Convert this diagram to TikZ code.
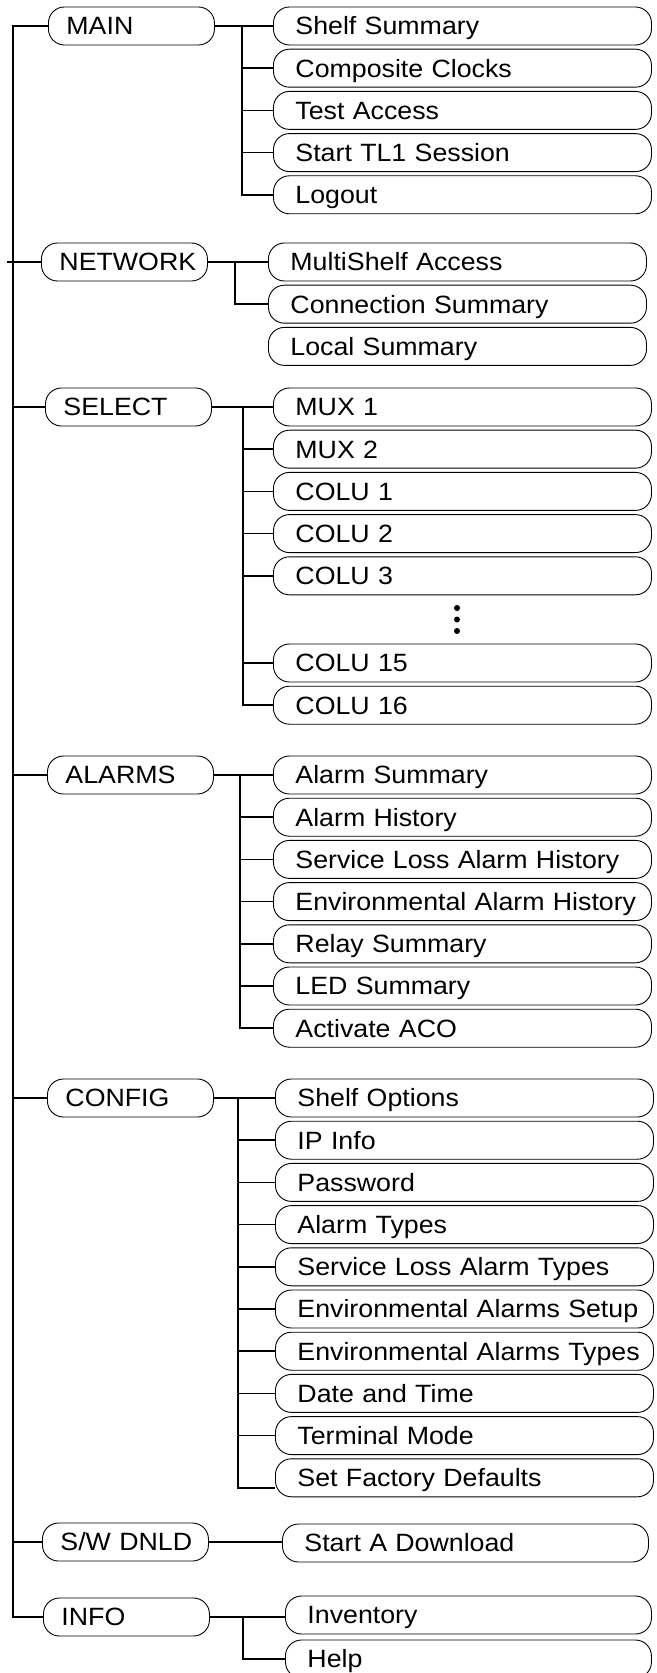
\documentclass[tikz,border=0pt]{standalone}
\usepackage{fontspec}
\setmainfont{Liberation Sans}[FakeStretch=1.07]
\usetikzlibrary{positioning}

\begin{document}
\begin{tikzpicture}[
  x=0.5pt, y=-0.5pt,
  node distance=1.65pt,
  box/.style={draw, line width=0.45pt, rounded corners=8pt, minimum height=19pt, inner ysep=0pt,
    align=left, font=\fontsize{12.5}{14}\selectfont, text height=9.3pt, text depth=0.35pt,
    execute at begin node={\hbox\bgroup}, execute at end node={\egroup}},
  menu/.style={box, anchor=west, inner xsep=9pt, text width=65pt},
  item/.style={box, inner xsep=11pt, text width=167pt},
  short/.style={item, text width=161pt},
  ln/.style={line width=0.85pt}
]
\useasboundingbox (0,0) rectangle (657,1673);

% top level menus
\node[menu] (main) at (48,26) {MAIN};
\node[menu] (net) at (41,262) {NETWORK};
\node[menu] (sel) at (45,407) {SELECT};
\node[menu] (alm) at (47,775) {ALARMS};
\node[menu] (cfg) at (47,1098) {CONFIG};
\node[menu] (sw) at (42,1542) {S/W DNLD};
\node[menu] (info) at (43,1617) {INFO};

% MAIN
\node[item, anchor=west] (ss) at (273,26) {Shelf Summary};
\node[item, below=of ss] (cc) {Composite Clocks};
\node[item, below=of cc] (ta) {Test Access};
\node[item, below=of ta] (tl) {Start TL1 Session};
\node[item, below=of tl] (lo) {Logout};

% NETWORK
\node[item, anchor=west] (ms) at (268,262) {MultiShelf Access};
\node[item, below=of ms] (cs) {Connection Summary};
\node[item, below=of cs] (ls) {Local Summary};

% SELECT
\node[item, anchor=west] (m1) at (273,407) {MUX 1};
\node[item, below=of m1] (m2) {MUX 2};
\node[item, below=of m2] (c1) {COLU 1};
\node[item, below=of c1] (c2) {COLU 2};
\node[item, below=of c2] (c3) {COLU 3};
\node[item, anchor=west] (c15) at (273,663) {COLU 15};
\node[item, below=of c15] (c16) {COLU 16};
\fill (457,608) circle (1.5pt) (457,619.5) circle (1.5pt) (457,631) circle (1.5pt);

% ALARMS
\node[item, anchor=west] (as) at (273,775) {Alarm Summary};
\node[item, below=of as] (ah) {Alarm History};
\node[item, below=of ah] (sl) {Service Loss Alarm History};
\node[item, below=of sl] (eh) {Environmental Alarm History};
\node[item, below=of eh] (rs) {Relay Summary};
\node[item, below=of rs] (led) {LED Summary};
\node[item, below=of led] (aco) {Activate ACO};

% CONFIG
\node[item, anchor=west] (so) at (275,1098) {Shelf Options};
\node[item, below=of so] (ip) {IP Info};
\node[item, below=of ip] (pw) {Password};
\node[item, below=of pw] (at) {Alarm Types};
\node[item, below=of at] (st) {Service Loss Alarm Types};
\node[item, below=of st] (es) {Environmental Alarms Setup};
\node[item, below=of es] (et) {Environmental Alarms Types};
\node[item, below=of et] (dt) {Date and Time};
\node[item, below=of dt] (tm) {Terminal Mode};
\node[item, below=of tm] (fd) {Set Factory Defaults};

% S/W DNLD and INFO
\node[short, anchor=west] (sd) at (282,1543) {Start A Download};
\node[short, anchor=west] (inv) at (285,1615) {Inventory};
\node[short, anchor=west] (hp) at (285,1659) {Help};

% trunk
\coordinate (trunk) at (13,0);
\draw[ln] (main.west) -| (trunk |- info.west) -- (info.west);
\draw[ln] ([xshift=-3pt]trunk |- net.west) -- (net.west);
\draw[ln] (trunk |- sel.west) -- (sel.west);
\draw[ln] (trunk |- alm.west) -- (alm.west);
\draw[ln] (trunk |- cfg.west) -- (cfg.west);
\draw[ln] (trunk |- sw.west) -- (sw.west);

% branches
\coordinate (mb) at (242,0);
\draw[ln] (main.east) -- (ss.west);
\draw[ln] (mb |- ss.west) |- (lo.west);
\draw[ln] (mb |- cc.west) -- (cc.west) (mb |- ta.west) -- (ta.west) (mb |- tl.west) -- (tl.west);

\coordinate (nb) at (235,0);
\draw[ln] (net.east) -- (ms.west);
\draw[ln] (nb |- ms.west) |- (cs.west);

\coordinate (sb) at (243,0);
\draw[ln] (sel.east) -- (m1.west);
\draw[ln] (sb |- m1.west) |- (c16.west);
\draw[ln] (sb |- m2.west) -- (m2.west) (sb |- c1.west) -- (c1.west) (sb |- c2.west) -- (c2.west)
  (sb |- c3.west) -- (c3.west) (sb |- c15.west) -- (c15.west);

\coordinate (ab) at (240,0);
\draw[ln] (alm.east) -- (as.west);
\draw[ln] (ab |- as.west) |- (aco.west);
\draw[ln] (ab |- ah.west) -- (ah.west) (ab |- sl.west) -- (sl.west) (ab |- eh.west) -- (eh.west)
  (ab |- rs.west) -- (rs.west) (ab |- led.west) -- (led.west);

\coordinate (cb) at (238,0);
\draw[ln] (cfg.east) -- (so.west);
\draw[ln] (cb |- so.west) |- ([yshift=-5pt]fd.west);
\draw[ln] (cb |- ip.west) -- (ip.west) (cb |- pw.west) -- (pw.west) (cb |- at.west) -- (at.west)
  (cb |- st.west) -- (st.west) (cb |- es.west) -- (es.west) (cb |- et.west) -- (et.west)
  (cb |- dt.west) -- (dt.west) (cb |- tm.west) -- (tm.west);

\draw[ln] (sw.east) -- (sw.east -| sd.west);

\coordinate (ib) at (243,0);
\draw[ln] (info.east) -- (info.east -| inv.west);
\draw[ln] (ib |- info.east) |- (hp.west);
\end{tikzpicture}
\end{document}
